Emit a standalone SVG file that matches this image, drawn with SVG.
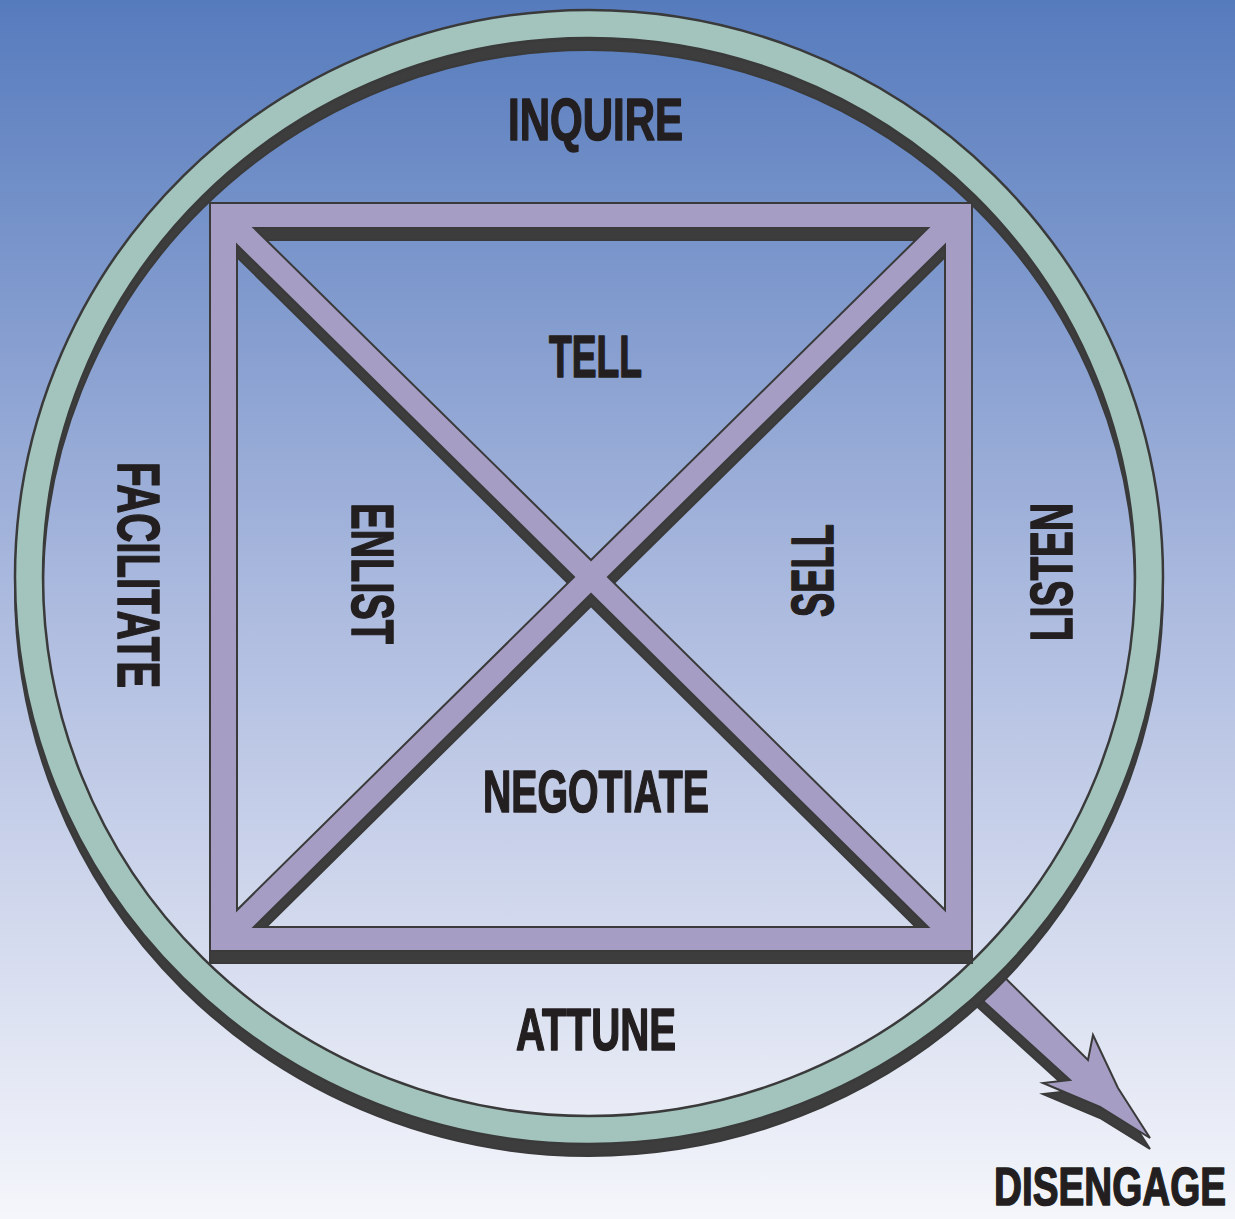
<svg xmlns="http://www.w3.org/2000/svg" width="1235" height="1219" viewBox="0 0 1235 1219">
  <defs>
    <linearGradient id="bg" x1="0" y1="0" x2="0" y2="1">
      <stop offset="0" stop-color="#567bbd"/>
      <stop offset="0.5" stop-color="#adbbdf"/>
      <stop offset="1" stop-color="#f5f6fb"/>
    </linearGradient>
  </defs>
  <style>
    .shade { fill: #3d3d3d; stroke: #3a3a3a; stroke-width: 2; stroke-linejoin: miter; }
    .purple { fill: #a59dc3; stroke: #3a3a3a; stroke-width: 2; stroke-linejoin: miter; }
    .teal { fill: #a2c4bd; stroke: #3a3a3a; stroke-width: 2.5; }
    .lbl { font-family: "Liberation Sans", Arial, sans-serif; font-weight: bold; font-size: 60px; fill: #231f20; stroke: #231f20; stroke-width: 1.6; stroke-linejoin: round; text-anchor: middle; }
  </style>
  <rect x="0" y="0" width="1235" height="1219" fill="url(#bg)"/>

  <g id="connectors">
    <g id="arrow-disengage">
      <path class="shade" transform="translate(0,11)" d="M985,958 L1088,1060 L1093,1035 L1118,1088 L1150,1138 L1100,1107 L1043,1083 L1070,1080 L960,980 Z"/>
      <path class="purple" d="M985,958 L1088,1060 L1093,1035 L1118,1088 L1150,1138 L1100,1107 L1043,1083 L1070,1080 L960,980 Z"/>
    </g>
  </g>

  <g id="ring">
    <path class="shade" fill-rule="evenodd" transform="translate(0,12)" d="M15,577 A574,567 0 1,0 1163,577 A574,567 0 1,0 15,577 Z M43,577 A546,539 0 1,0 1135,577 A546,539 0 1,0 43,577 Z"/>
    <path class="teal" fill-rule="evenodd" d="M15,577 A574,567 0 1,0 1163,577 A574,567 0 1,0 15,577 Z M43,577 A546,539 0 1,0 1135,577 A546,539 0 1,0 43,577 Z"/>
  </g>

  <g id="frame">
    <path class="shade" fill-rule="evenodd" transform="translate(0,12)" d="M210,203 H972 V951 H210 Z M254,228 L928,228 L591,560 Z M254,927 L928,927 L591,594 Z M237,245 L574,577 L237,910 Z M945,245 L608,577 L945,910 Z"/>
    <path class="purple" fill-rule="evenodd" d="M210,203 H972 V951 H210 Z M254,228 L928,228 L591,560 Z M254,927 L928,927 L591,594 Z M237,245 L574,577 L237,910 Z M945,245 L608,577 L945,910 Z"/>
  </g>

  <g id="inquire"><text class="lbl" x="595.5" y="140" textLength="175" lengthAdjust="spacingAndGlyphs">INQUIRE</text></g>
  <g id="tell"><text class="lbl" x="595.5" y="377" textLength="93" lengthAdjust="spacingAndGlyphs">TELL</text></g>
  <g id="negotiate"><text class="lbl" x="596" y="812" textLength="226" lengthAdjust="spacingAndGlyphs">NEGOTIATE</text></g>
  <g id="attune"><text class="lbl" x="596" y="1050" textLength="160" lengthAdjust="spacingAndGlyphs">ATTUNE</text></g>
  <g id="disengage"><text class="lbl" x="1110" y="1205" textLength="232" lengthAdjust="spacingAndGlyphs" style="font-size:54px">DISENGAGE</text></g>
  <g id="facilitate"><text class="lbl" transform="translate(118,575) rotate(90)" x="0" y="0" textLength="226" lengthAdjust="spacingAndGlyphs">FACILITATE</text></g>
  <g id="enlist"><text class="lbl" transform="translate(352,573.5) rotate(90)" x="0" y="0" textLength="141" lengthAdjust="spacingAndGlyphs">ENLIST</text></g>
  <g id="sell"><text class="lbl" transform="translate(833,570.5) rotate(-90)" x="0" y="0" textLength="93" lengthAdjust="spacingAndGlyphs">SELL</text></g>
  <g id="listen"><text class="lbl" transform="translate(1072,572) rotate(-90)" x="0" y="0" textLength="138" lengthAdjust="spacingAndGlyphs">LISTEN</text></g>
</svg>
